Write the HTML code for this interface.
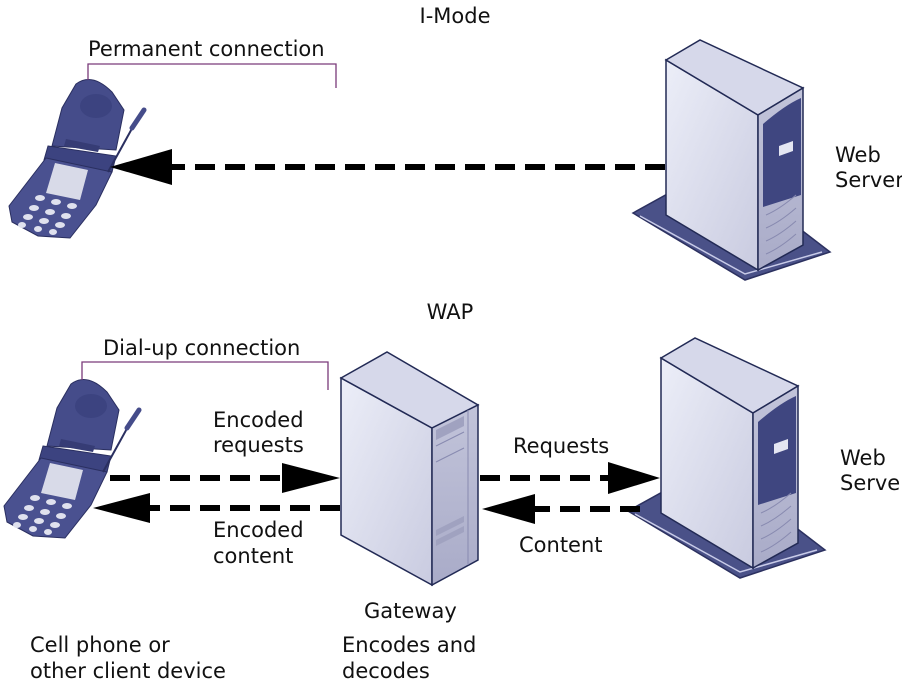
<!DOCTYPE html>
<html><head><meta charset="utf-8"><style>
html,body{margin:0;padding:0;background:#fff;}
svg{display:block;}
text{font-family:"DejaVu Sans","Liberation Sans",sans-serif;font-size:21px;fill:#111;}
</style></head><body>
<svg width="902" height="688" viewBox="0 0 902 688" xmlns="http://www.w3.org/2000/svg">
<defs>
<linearGradient id="front" x1="0" y1="0" x2="1" y2="1">
<stop offset="0" stop-color="#eceef8"/><stop offset="1" stop-color="#c9cbe0"/></linearGradient>
<linearGradient id="side" x1="0" y1="0" x2="0" y2="1">
<stop offset="0" stop-color="#c2c4da"/><stop offset="1" stop-color="#a9abc8"/></linearGradient>
<g id="server">
<polygon points="633,213 718,166 830,252 745,280" fill="#4a5188" stroke="#2c3160" stroke-width="1.5"/>
<polyline points="640,216 745,274 822,252" fill="none" stroke="#c8cbe8" stroke-width="1.5"/>
<polygon points="666,60 758,115 758,270 666,215" fill="url(#front)" stroke="#222a55" stroke-width="1.5"/>
<polygon points="666,60 700,40 803,88 758,115" fill="#d6d8ea" stroke="#222a55" stroke-width="1.5"/>
<polygon points="758,115 803,88 803,245 758,270" fill="url(#side)" stroke="#222a55" stroke-width="1.5"/>
<path d="M763,124 Q785,105 801,98 L801,195 Q785,200 763,207 Z" fill="#3f4680"/>
<polygon points="779,146 793,141 793,151 779,156" fill="#e4e6f2"/>
<path d="M766,215 q14,-6 30,-20 M766,228 q14,-6 30,-20 M766,241 q14,-6 30,-20 M766,254 q14,-6 30,-20" stroke="#888ab0" fill="none"/>
</g>
<g id="phone">
<path d="M76,84 Q92,72 112,92 L124,110 L116,150 L52,146 L62,108 Z" fill="#454c8a" stroke="#2a2f60"/>
<ellipse cx="96" cy="106" rx="16" ry="12" fill="#3c4380"/>
<polygon points="66,139 100,146 98,152 64,146" fill="#363c75"/>
<polygon points="48,146 116,156 112,172 44,160" fill="#3c4380" stroke="#2a2f60"/>
<polygon points="46,158 112,172 96,205 70,238 38,236 12,222 9,206" fill="#4a5190" stroke="#2a2f60"/>
<polygon points="55,163 88,170 80,200 46,193" fill="#d8dae8"/>
<g fill="#dfe1ee">
<ellipse cx="40" cy="198" rx="5" ry="3"/><ellipse cx="56" cy="202" rx="5" ry="3"/><ellipse cx="72" cy="206" rx="5" ry="3"/>
<ellipse cx="34" cy="208" rx="5" ry="3"/><ellipse cx="50" cy="212" rx="5" ry="3"/><ellipse cx="66" cy="216" rx="5" ry="3"/>
<ellipse cx="28" cy="217" rx="5" ry="3"/><ellipse cx="44" cy="221" rx="5" ry="3"/><ellipse cx="60" cy="225" rx="5" ry="3"/>
<ellipse cx="22" cy="225" rx="4" ry="3"/><ellipse cx="38" cy="229" rx="4" ry="3"/><ellipse cx="53" cy="232" rx="4" ry="3"/>
</g>
<line x1="108" y1="172" x2="140" y2="114" stroke="#2a2f60" stroke-width="2"/>
<line x1="132" y1="128" x2="144" y2="110" stroke="#454c8a" stroke-width="5" stroke-linecap="round"/>
</g>
</defs>

<use href="#phone"/>
<use href="#phone" transform="translate(-5,300)"/>
<use href="#server"/>
<use href="#server" transform="translate(-5,298)"/>

<polygon points="341,378 432,428 432,585 341,535" fill="url(#front)" stroke="#222a55" stroke-width="1.5"/>
<polygon points="341,378 387,352 478,405 432,428" fill="#d6d8ea" stroke="#222a55" stroke-width="1.5"/>
<polygon points="432,428 478,405 478,560 432,585" fill="url(#side)" stroke="#222a55" stroke-width="1.5"/>
<line x1="468" y1="410" x2="468" y2="565" stroke="#888ab0"/>
<polygon points="436,430 464,416 464,426 436,440" fill="#a0a2c0"/>
<line x1="436" y1="446" x2="464" y2="432" stroke="#888ab0"/>
<line x1="436" y1="462" x2="464" y2="448" stroke="#888ab0"/>
<polygon points="436,530 464,516 464,522 436,536" fill="#a0a2c0"/>
<polygon points="436,540 464,526 464,532 436,546" fill="#a0a2c0"/>

<polyline points="88,80 88,64 336,64 336,88" fill="none" stroke="#7a3a7a" stroke-width="1.3"/>
<polyline points="82,380 82,362 328,362 328,390" fill="none" stroke="#7a3a7a" stroke-width="1.3"/>

<g stroke="#000" stroke-width="6" stroke-dasharray="20,10" fill="none">
<line x1="665" y1="167" x2="168" y2="167"/>
<line x1="110" y1="478" x2="285" y2="478"/>
<line x1="340" y1="508" x2="150" y2="508"/>
<line x1="480" y1="478" x2="610" y2="478"/>
<line x1="640" y1="509" x2="535" y2="509"/>
</g>
<g fill="#000">
<polygon points="110,167 172,149 172,185"/>
<polygon points="340,478 282,463 282,493"/>
<polygon points="93,508 150,493 150,523"/>
<polygon points="660,478 608,462 608,494"/>
<polygon points="482,509 535,494 535,524"/>
</g>

<text x="455" y="23" text-anchor="middle">I-Mode</text>
<text x="88" y="56">Permanent connection</text>
<text x="835" y="162">Web</text>
<text x="835" y="187">Server</text>
<text x="450" y="319" text-anchor="middle">WAP</text>
<text x="103" y="355">Dial-up connection</text>
<text x="213" y="427">Encoded</text>
<text x="213" y="452">requests</text>
<text x="213" y="537">Encoded</text>
<text x="213" y="563">content</text>
<text x="513" y="453">Requests</text>
<text x="519" y="552">Content</text>
<text x="840" y="465">Web</text>
<text x="840" y="490">Server</text>
<text x="364" y="618">Gateway</text>
<text x="342" y="652">Encodes and</text>
<text x="342" y="678">decodes</text>
<text x="30" y="652">Cell phone or</text>
<text x="30" y="678">other client device</text>
</svg>
</body></html>
